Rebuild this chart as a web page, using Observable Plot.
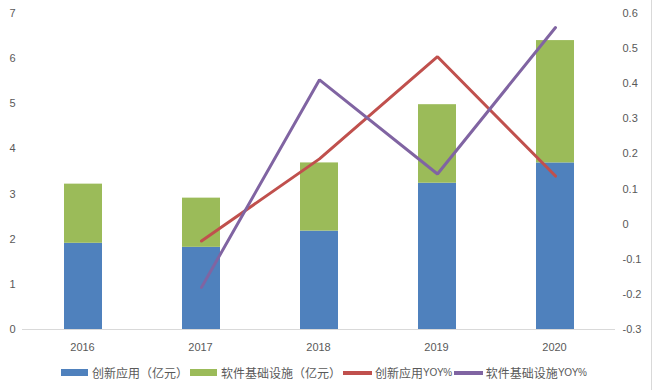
<!DOCTYPE html>
<html>
<head>
<meta charset="utf-8">
<script src="https://cdn.jsdelivr.net/npm/d3@7"></script>
<script src="https://cdn.jsdelivr.net/npm/@observablehq/plot@0.6"></script>
<style>
  body { margin: 0; background: #fff; width: 653px; height: 390px; overflow: hidden; position: relative; font-family: "Liberation Sans", "Noto Sans CJK SC", sans-serif; }
  #legend { display: flex; align-items: center; padding-left: 61px; margin-top: 8px; font-size: 12px; color: #595959; font-family: "Noto Sans CJK SC", sans-serif; white-space: nowrap; }
  .item { display: flex; align-items: center; }
  .item.bar { margin-right: 2px; }
  .item.line { margin-right: 2px; }
  .sw { width: 27px; height: 7px; margin-right: 4px; }
  .ln { width: 29px; height: 4px; margin-right: 3px; }
  .yoy { font-family: "Liberation Sans", sans-serif; font-size: 10px; letter-spacing: -0.3px; }
  #border { position: absolute; left: 651px; top: 0; width: 1px; height: 390px; background: #d9d9d9; }
</style>
</head>
<body>
<div id="chart"></div>
<div id="legend"></div>
<div id="border"></div>
<script>
const years = ["2016", "2017", "2018", "2019", "2020"];
const seriesNames = ["创新应用（亿元）", "软件基础设施（亿元）"];
const innovationApp = [1.91, 1.82, 2.18, 3.24, 3.69];
const softwareInfra = [1.31, 1.09, 1.51, 1.74, 2.71];
const lineYears = ["2017", "2018", "2019", "2020"];
const innovationYoY = [-0.048, 0.186, 0.477, 0.137];
const infraYoY = [-0.18, 0.411, 0.143, 0.56];
const leftTicks = [0, 1, 2, 3, 4, 5, 6, 7];
const rightTicks = [-0.3, -0.2, -0.1, 0, 0.1, 0.2, 0.3, 0.4, 0.5, 0.6];

const colors = ["#4F81BD", "#9BBB59", "#C0504D", "#8064A2"];

const bars = [];
years.forEach((y, i) => {
  bars.push({year: y, series: seriesNames[0], value: innovationApp[i]});
  bars.push({year: y, series: seriesNames[1], value: softwareInfra[i]});
});
// right axis (-0.3..0.6) mapped onto the left scale (0..7)
const toLeft = v => (v + 0.3) / 0.9 * 7;
const redLine = lineYears.map((y, i) => ({year: y, v: innovationYoY[i]}));
const purpleLine = lineYears.map((y, i) => ({year: y, v: infraYoY[i]}));

const chart = Plot.plot({
  width: 653,
  height: 356,
  marginLeft: 22,
  marginRight: 38,
  marginTop: 13,
  marginBottom: 27,
  style: {fontSize: "11px", fontFamily: "Liberation Sans, sans-serif", color: "#595959", background: "#fff"},
  x: {domain: years, paddingInner: 0.68, paddingOuter: 0.34, label: null},
  y: {domain: [0, 7], label: null},
  color: {domain: seriesNames, range: colors.slice(0, 2)},
  marks: [
    Plot.barY(bars, {x: "year", y: "value", fill: "series"}),
    Plot.ruleY([0], {stroke: "#d9d9d9", strokeWidth: 1}),
    Plot.line(redLine, {x: "year", y: d => toLeft(d.v), stroke: colors[2], strokeWidth: 3, strokeLinejoin: "miter"}),
    Plot.line(purpleLine, {x: "year", y: d => toLeft(d.v), stroke: colors[3], strokeWidth: 3, strokeLinejoin: "miter"}),
    Plot.axisX({tickSize: 0, tickPadding: 14, label: null, fill: "#595959", dx: -1}),
    Plot.axisY(leftTicks, {anchor: "left", tickSize: 0, tickPadding: 6, label: null, textAnchor: "middle", dx: -4}),
    Plot.axisY(rightTicks, {anchor: "right", y: d => toLeft(d), tickSize: 0, tickPadding: 7, label: null, textAnchor: "start", tickFormat: d => String(d)})
  ]
});
document.getElementById("chart").appendChild(chart);

const legendItems = [
  {label: seriesNames[0], color: colors[0], type: "sw"},
  {label: seriesNames[1], color: colors[1], type: "sw"},
  {label: "创新应用", suffix: "YOY%", color: colors[2], type: "ln"},
  {label: "软件基础设施", suffix: "YOY%", color: colors[3], type: "ln"}
];
const legend = document.getElementById("legend");
legendItems.forEach(it => {
  const el = document.createElement("div");
  el.className = "item " + (it.type === "sw" ? "bar" : "line");
  const sw = document.createElement("div");
  sw.className = it.type;
  sw.style.background = it.color;
  el.appendChild(sw);
  const t = document.createElement("span");
  t.textContent = it.label;
  el.appendChild(t);
  if (it.suffix) {
    const s = document.createElement("span");
    s.className = "yoy";
    s.textContent = it.suffix;
    el.appendChild(s);
  }
  legend.appendChild(el);
});
</script>
</body>
</html>
